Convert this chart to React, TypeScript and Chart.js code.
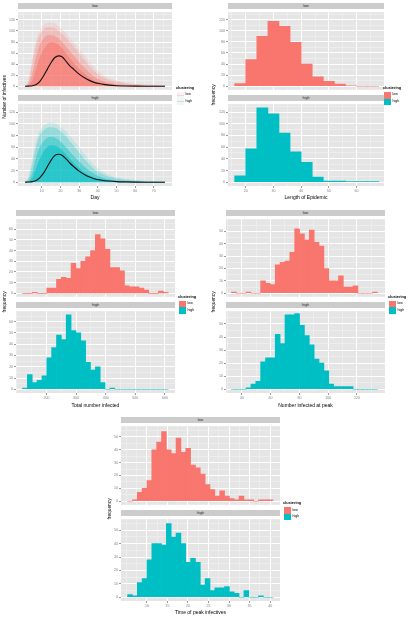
import React, { useEffect, useRef } from 'react';
import { Chart, registerables } from 'chart.js';
Chart.register(...registerables);

const RED = '#F8766D';
const CYAN = '#00BFC4';
const FONT = '"Liberation Sans", Arial, Helvetica, sans-serif';
const TICK_COLOR = '#7F7F7F';

// ---------- Panel 1: epidemic curves (Number of infectives vs Day) ----------
const dayPoints = [1, 3, 5, 7, 9, 11, 13, 15, 17, 19, 21, 23, 25, 27, 30, 34, 38, 42, 46, 50, 55, 60, 66, 76];
const lowMean = [0, 0.3, 1, 3, 9, 19, 31, 43, 52, 55, 53, 45, 37, 31, 22, 13, 7, 4, 2, 1, 0.5, 0.2, 0, 0];
const highMean = [0, 0.3, 1, 3, 8, 16, 27, 38, 46, 48, 46, 40, 33, 27, 19, 11, 6, 3.5, 2, 1, 0.5, 0.2, 0, 0];
const lowFaint = [0, 12, 50, 82, 100, 110, 114, 115, 113, 108, 102, 95, 87, 79, 67, 50, 34, 22, 14, 10, 6, 4, 2.5, 1.5];
const lowOuter = [0, 8, 40, 72, 92, 102, 106, 106, 104, 100, 94, 87, 79, 71, 59, 42, 27, 17, 11, 8, 5, 3, 2, 1];
const lowMiddle = [0, 3, 22, 52, 74, 86, 92, 92, 90, 86, 79, 71, 63, 55, 43, 29, 17, 10, 6, 3.5, 2, 1, 0.5, 0];
const lowCore = [0, 1, 10, 30, 52, 66, 75, 79, 78, 74, 68, 59, 50, 42, 31, 19, 10, 6, 3, 1.5, 0.5, 0.2, 0, 0];
const highFaint = [0, 10, 40, 70, 88, 97, 101, 102, 101, 98, 92, 86, 79, 71, 59, 43, 29, 19, 12, 8, 5, 3.5, 2, 1.2];
const highOuter = [0, 6, 30, 60, 80, 89, 93, 94, 93, 90, 84, 78, 70, 62, 50, 35, 22, 14, 9, 6, 4, 2.5, 1.5, 1];
const highMiddle = [0, 2, 16, 42, 60, 70, 76, 77, 76, 72, 66, 59, 52, 45, 35, 23, 14, 8, 4.5, 2.5, 1.2, 0.8, 0.4, 0];
const highCore = [0, 1, 7, 23, 40, 52, 60, 63, 62, 59, 54, 47, 40, 33, 24, 14, 8, 4.5, 2.2, 1.2, 0.5, 0.2, 0, 0];
const dayTicks = [10, 20, 30, 40, 50, 60, 70];
const infTicks = [0, 20, 40, 60, 80, 100, 120];

// ---------- Panel 2: Length of Epidemic ----------
const epiBinStart = 16;
const epiBinWidth = 4;
const epiLow = [5, 48, 90, 117, 108, 79, 40, 17, 9, 4, 1, 0, 0];
const epiHigh = [11, 57, 127, 117, 84, 52, 34, 9, 2, 2, 1, 1, 1];
const epiTicks = [20, 30, 40, 50, 60];
const epiFreqTicks = [0, 20, 40, 60, 80, 100, 120];

// ---------- Panel 3: Total number infected ----------
const totalBinStart = 119;
const totalBinWidth = 16.4;
const totalLow = [0, 0, 1, 0, 0, 5, 5, 13, 15, 14, 28, 23, 30, 34, 40, 55, 51, 41, 24, 24, 21, 7, 6, 6, 5, 3, 0, 0, 2, 1];
const totalHigh = [1, 13, 6, 8, 12, 28, 37, 48, 44, 66, 52, 50, 43, 24, 17, 20, 6, 0, 1, 0, 0, 0, 0, 0, 0, 0, 0, 0, 0, 0];
const totalTicks = [200, 300, 400, 500, 600];
const totalFreqTicks = [0, 10, 20, 30, 40, 50, 60];

// ---------- Panel 4: Number infected at peak ----------
const peakBinStart = 32.8;
const peakBinWidth = 3.38;
const peakLow = [1, 0, 0, 1, 0, 0, 10, 8, 7, 23, 25, 26, 33, 52, 48, 43, 51, 41, 38, 20, 10, 10, 14, 5, 5, 6, 0, 0, 0, 1];
const peakHigh = [0, 0, 0, 1, 4, 6, 21, 24, 24, 42, 35, 57, 57, 58, 49, 41, 34, 23, 20, 14, 4, 2, 2, 2, 2, 0, 0, 0, 0, 0];
const peakTicks = [40, 60, 80, 100, 120];
const peakFreqTicks = [0, 10, 20, 30, 40, 50];

// ---------- Panel 5: Time of peak infectives ----------
const timeBinStart = 5.3;
const timeBinWidth = 1.18;
const timeLow = [0, 1, 7, 10, 16, 40, 46, 54, 40, 37, 49, 38, 41, 28, 26, 21, 13, 9, 4, 8, 4, 2, 1, 4, 1, 1, 0, 1, 1, 1];
const timeHigh = [2, 1, 11, 14, 28, 40, 40, 39, 55, 45, 48, 40, 26, 29, 26, 9, 14, 5, 7, 7, 8, 4, 3, 0, 5, 0, 0, 1, 0, 0];
const timeTicks = [10, 15, 20, 25, 30, 35, 40];
const timeFreqTicks = [0, 10, 20, 30, 40, 50];

const facetLabels = ['low', 'high'];
const legendTitle = 'clustering';

// ---------- helpers ----------
type Ax = { min: number; max: number; majors: number[] };
const YW = 16;
const XH = 8;
const STRIP_H = 6;

function minorTicks(ax: Ax): number[] {
  const m = ax.majors;
  const step = m[1] - m[0];
  const out: number[] = [];
  for (let v = m[0] - step; v <= m[m.length - 1] + step + 1e-9; v += step / 2) {
    const r = Math.round(v * 1000) / 1000;
    if (r >= ax.min && r <= ax.max && !m.includes(r)) out.push(r);
  }
  return out;
}

function scaleOpts(ax: Ax, isX: boolean, show: boolean) {
  const all = [...ax.majors, ...minorTicks(ax)].sort((a, b) => a - b);
  const isMajor = (v: number) => ax.majors.some((m) => Math.abs(m - v) < 1e-6);
  return {
    type: 'linear',
    min: ax.min,
    max: ax.max,
    offset: false,
    bounds: 'data',
    afterBuildTicks: (s: any) => {
      s.ticks = all.map((v) => ({ value: v }));
    },
    afterFit: (s: any) => {
      if (isX) s.height = show ? XH : 0;
      else s.width = YW;
    },
    grid: {
      offset: false,
      drawTicks: show,
      tickLength: 2,
      color: (c: any) => (c.tick && isMajor(c.tick.value) ? '#FFFFFF' : '#F2F2F2'),
      lineWidth: (c: any) => (c.tick && isMajor(c.tick.value) ? 1 : 0.6),
      tickColor: (c: any) => (c.tick && isMajor(c.tick.value) ? TICK_COLOR : 'rgba(0,0,0,0)'),
      tickWidth: 0.8,
    },
    border: { display: false },
    ticks: {
      display: show,
      autoSkip: false,
      maxRotation: 0,
      minRotation: 0,
      padding: 1,
      color: TICK_COLOR,
      font: { family: FONT, size: 3.6 },
      callback: (v: number) => (isMajor(v) ? String(v) : ''),
    },
  };
}

const bgPlugin = {
  id: 'panelBg',
  beforeDraw(chart: any) {
    const { ctx, chartArea: a } = chart;
    ctx.save();
    ctx.fillStyle = '#E5E5E5';
    ctx.fillRect(a.left, a.top, a.right - a.left, a.bottom - a.top);
    ctx.restore();
  },
};

function baseOptions(xAx: Ax, yAx: Ax, showX: boolean) {
  return {
    animation: false,
    responsive: false,
    devicePixelRatio: 1,
    events: [],
    layout: { padding: 0, autoPadding: false },
    plugins: { legend: { display: false }, tooltip: { enabled: false }, title: { display: false } },
    scales: { x: scaleOpts(xAx, true, showX), y: scaleOpts(yAx, false, true) },
  };
}

function histConfig(counts: number[], start: number, width: number, color: string, xAx: Ax, yAx: Ax, showX: boolean) {
  return {
    type: 'bar',
    data: {
      datasets: [
        {
          data: counts.map((c, i) => ({ x: start + width * (i + 0.5), y: c })),
          backgroundColor: color,
          borderWidth: 0,
          barPercentage: 1,
          categoryPercentage: 1,
        },
      ],
    },
    options: baseOptions(xAx, yAx, showX),
    plugins: [bgPlugin],
  };
}

function rgba(hex: string, a: number) {
  const n = parseInt(hex.slice(1), 16);
  return `rgba(${(n >> 16) & 255},${(n >> 8) & 255},${n & 255},${a})`;
}

function curveConfig(mean: number[], bands: number[][], alphas: number[], color: string, xAx: Ax, yAx: Ax, showX: boolean) {
  const pts = (arr: number[]) => arr.map((v, i) => ({ x: dayPoints[i], y: v }));
  const band = (arr: number[], a: number) => ({
    data: pts(arr),
    borderWidth: 0.5,
    borderColor: rgba(color, a * 0.8),
    backgroundColor: rgba(color, a),
    fill: 'origin',
    pointRadius: 0,
    cubicInterpolationMode: 'monotone',
  });
  return {
    type: 'line',
    data: {
      datasets: [
        { data: pts(mean), borderColor: '#111111', borderWidth: 1.1, fill: false, pointRadius: 0, cubicInterpolationMode: 'monotone' },
        ...bands.map((b, i) => band(b, alphas[i])),
      ],
    },
    options: baseOptions(xAx, yAx, showX),
    plugins: [bgPlugin],
  };
}

function Facet({ x, y, w, h, showX, make }: any) {
  const ref = useRef<HTMLCanvasElement>(null);
  const W = w + YW;
  const H = h + (showX ? XH : 0);
  useEffect(() => {
    const chart = new Chart(ref.current as HTMLCanvasElement, make());
    return () => chart.destroy();
  }, []);
  return <canvas ref={ref} width={W} height={H} style={{ position: 'absolute', left: x - YW, top: y, width: W, height: H }} />;
}

function Strip({ x, y, w, label }: any) {
  return (
    <div
      style={{
        position: 'absolute', left: x, top: y, width: w, height: STRIP_H, background: '#CCCCCC',
        color: '#1A1A1A', fontSize: 3.6, lineHeight: `${STRIP_H}px`, textAlign: 'center', whiteSpace: 'nowrap',
      }}
    >
      {label}
    </div>
  );
}

function Txt({ x, y, size, rotate, children, bold }: any) {
  return (
    <div
      style={{
        position: 'absolute', left: x, top: y, fontSize: size, lineHeight: 1, whiteSpace: 'nowrap', color: '#000',
        fontWeight: bold ? 'bold' : 'normal',
        transform: `translate(-50%,-50%)${rotate ? ' rotate(-90deg)' : ''}`,
      }}
    >
      {children}
    </div>
  );
}

function Legend({ x, y, lines }: any) {
  const k = 6.5;
  const colors = [RED, CYAN];
  return (
    <div>
      <div style={{ position: 'absolute', left: x, top: y - 2.2, fontSize: 3.8, fontWeight: 'bold', lineHeight: 1, whiteSpace: 'nowrap' }}>{legendTitle}</div>
      {facetLabels.map((lab, i) => (
        <div key={lab}>
          <div
            style={{
              position: 'absolute', left: x + 1, top: y + 3 + i * k, width: k, height: k,
              background: lines ? '#F4F4F4' : colors[i], boxSizing: 'border-box',
            }}
          >
            {lines ? <div style={{ position: 'absolute', left: 0, top: k / 2 - 0.3, width: k, height: 0.6, background: rgba(colors[i], 0.25) }} /> : null}
          </div>
          <div style={{ position: 'absolute', left: x + 1 + k + 2, top: y + 3 + i * k + k / 2 - 1.8, fontSize: 3.6, lineHeight: 1, whiteSpace: 'nowrap' }}>{lab}</div>
        </div>
      ))}
    </div>
  );
}

function Panel({ g, makeLow, makeHigh, xTitle, xT, yT, leg, lines }: any) {
  return (
    <>
      <Strip x={g.l} y={g.sLow} w={g.w} label={facetLabels[0]} />
      <Facet x={g.l} y={g.low} w={g.w} h={g.lowH} showX={false} make={() => makeLow(false)} />
      <Strip x={g.l} y={g.sHigh} w={g.w} label={facetLabels[1]} />
      <Facet x={g.l} y={g.high} w={g.w} h={g.highH} showX={true} make={() => makeHigh(true)} />
      <Txt x={xT[0]} y={xT[1]} size={5}>{xTitle}</Txt>
      <Txt x={yT[0]} y={yT[1]} size={4.8} rotate>{yT[2]}</Txt>
      <Legend x={leg[0]} y={leg[1]} lines={lines} />
    </>
  );
}

export default function App() {
  const ax1x: Ax = { min: -2.75, max: 79.75, majors: dayTicks };
  const ax1y: Ax = { min: -6.5, max: 134, majors: infTicks };
  const ax2x: Ax = { min: 13.6, max: 69.9, majors: epiTicks };
  const ax2y: Ax = { min: -6.4, max: 133.4, majors: epiFreqTicks };
  const ax3x: Ax = { min: 97, max: 634, majors: totalTicks };
  const ax3y: Ax = { min: -3.3, max: 69.3, majors: totalFreqTicks };
  const ax4x: Ax = { min: 29, max: 139.5, majors: peakTicks };
  const ax4y: Ax = { min: -2.9, max: 59.8, majors: peakFreqTicks };
  const ax5x: Ax = { min: 3.7, max: 42.4, majors: timeTicks };
  const ax5y: Ax = { min: -2.8, max: 58.3, majors: timeFreqTicks };

  const gTop = { sLow: 3, low: 9, lowH: 84, sHigh: 95, high: 101, highH: 85 };
  const gMid = { sLow: 210, low: 216, lowH: 84, sHigh: 302, high: 308, highH: 85 };
  const gBot = { sLow: 417, low: 423, lowH: 85, sHigh: 510, high: 516, highH: 85 };
  const alphas = [0.55, 0.38, 0.24, 0.13];

  return (
    <div style={{ position: 'absolute', left: 0, top: 0, width: 410, height: 617, background: '#FFFFFF', overflow: 'hidden', fontFamily: FONT }}>
      <Panel
        g={{ ...gTop, l: 18, w: 154 }}
        lines
        makeLow={(s: boolean) => curveConfig(lowMean, [lowCore, lowMiddle, lowOuter, lowFaint], alphas, RED, ax1x, ax1y, s)}
        makeHigh={(s: boolean) => curveConfig(highMean, [highCore, highMiddle, highOuter, highFaint], alphas, CYAN, ax1x, ax1y, s)}
        xTitle="Day"
        xT={[95, 197]}
        yT={[4.5, 97, 'Number of infectives']}
        leg={[176, 89]}
      />
      <Panel
        g={{ ...gTop, l: 228, w: 156 }}
        makeLow={(s: boolean) => histConfig(epiLow, epiBinStart, epiBinWidth, RED, ax2x, ax2y, s)}
        makeHigh={(s: boolean) => histConfig(epiHigh, epiBinStart, epiBinWidth, CYAN, ax2x, ax2y, s)}
        xTitle="Length of Epidemic"
        xT={[306, 197]}
        yT={[213.5, 95, 'frequency']}
        leg={[383, 89]}
      />
      <Panel
        g={{ ...gMid, l: 16, w: 159 }}
        makeLow={(s: boolean) => histConfig(totalLow, totalBinStart, totalBinWidth, RED, ax3x, ax3y, s)}
        makeHigh={(s: boolean) => histConfig(totalHigh, totalBinStart, totalBinWidth, CYAN, ax3x, ax3y, s)}
        xTitle="Total number infected"
        xT={[95.5, 404.5]}
        yT={[4.5, 302, 'frequency']}
        leg={[178, 297.7]}
      />
      <Panel
        g={{ ...gMid, l: 226, w: 159 }}
        makeLow={(s: boolean) => histConfig(peakLow, peakBinStart, peakBinWidth, RED, ax4x, ax4y, s)}
        makeHigh={(s: boolean) => histConfig(peakHigh, peakBinStart, peakBinWidth, CYAN, ax4x, ax4y, s)}
        xTitle="Number infected at peak"
        xT={[305.5, 404.5]}
        yT={[213.5, 302, 'frequency']}
        leg={[388, 297.7]}
      />
      <Panel
        g={{ ...gBot, l: 121, w: 159 }}
        makeLow={(s: boolean) => histConfig(timeLow, timeBinStart, timeBinWidth, RED, ax5x, ax5y, s)}
        makeHigh={(s: boolean) => histConfig(timeHigh, timeBinStart, timeBinWidth, CYAN, ax5x, ax5y, s)}
        xTitle="Time of peak infectives"
        xT={[200.5, 611.5]}
        yT={[109.5, 509, 'frequency']}
        leg={[283, 504.3]}
      />
    </div>
  );
}
